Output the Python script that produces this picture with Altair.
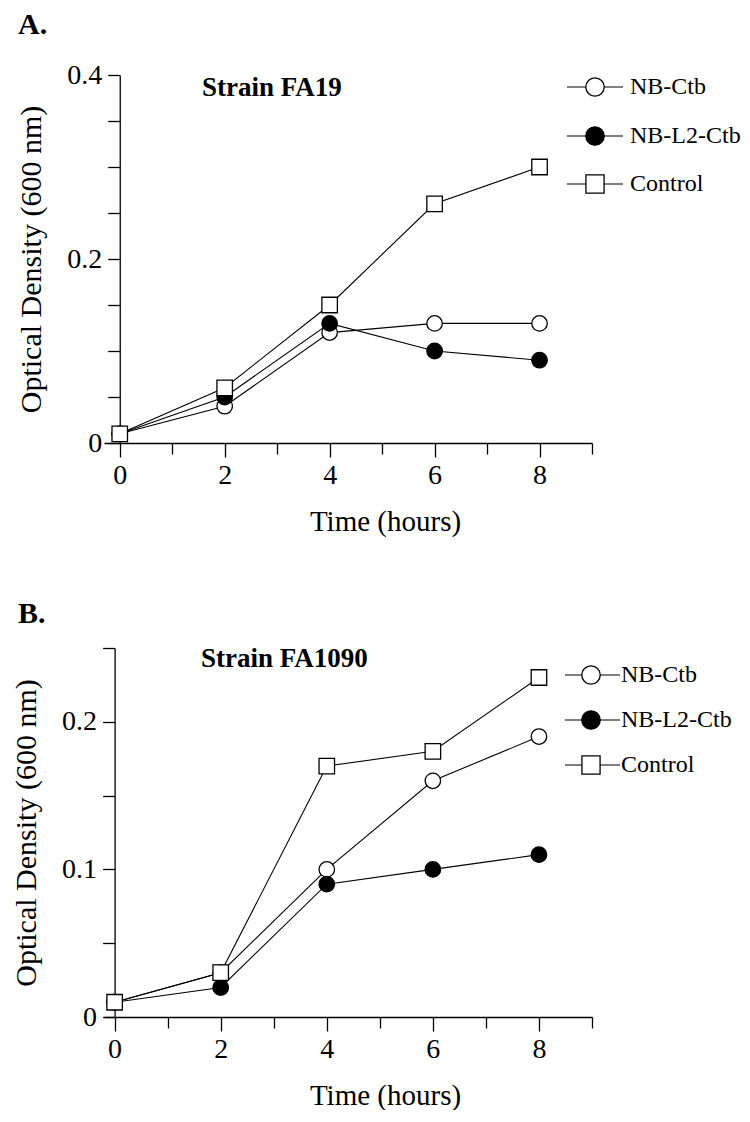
import altair as alt
import pandas as pd

# ---------------- data ----------------
hours = [0, 2, 4, 6, 8]
series = ["NB-Ctb", "NB-L2-Ctb", "Control"]

fa19_nb_ctb = [0.01, 0.04, 0.12, 0.13, 0.13]
fa19_nb_l2_ctb = [0.01, 0.05, 0.13, 0.10, 0.09]
fa19_control = [0.01, 0.06, 0.15, 0.26, 0.30]

fa1090_nb_ctb = [0.01, 0.03, 0.10, 0.16, 0.19]
fa1090_nb_l2_ctb = [0.01, 0.02, 0.09, 0.10, 0.11]
fa1090_control = [0.01, 0.03, 0.17, 0.18, 0.23]

x_ticks = [0, 1, 2, 3, 4, 5, 6, 7, 8, 9]
y_ticks_a = [0, 0.05, 0.1, 0.15, 0.2, 0.25, 0.3, 0.35, 0.4]
y_ticks_b = [0, 0.05, 0.1, 0.15, 0.2, 0.25]

FONT = "Liberation Serif"
shapes = {"NB-Ctb": "circle", "NB-L2-Ctb": "circle", "Control": "square"}
fills = {"NB-Ctb": "white", "NB-L2-Ctb": "black", "Control": "white"}
sizes = {"NB-Ctb": 240, "NB-L2-Ctb": 240, "Control": 210}
leg_sizes = {"NB-Ctb": 340, "NB-L2-Ctb": 340, "Control": 330}


def make_df(vals):
    rows = []
    for s, v in zip(series, vals):
        for h, y in zip(hours, v):
            rows.append({"hours": h, "od": y, "series": s})
    return pd.DataFrame(rows)


def panel(letter, strain, vals, ydom, yticks, major, xmin, W, H,
          letter_y, strain_xy, leg_rows_y, leg_x):
    df = make_df(vals)
    off = -(0 - xmin) / (9 - xmin) * W
    x = alt.X("hours:Q",
              scale=alt.Scale(domain=[xmin, 9], nice=False, zero=False),
              axis=alt.Axis(values=x_ticks, title="Time (hours)",
                            labelExpr="datum.value % 2 == 0 ? datum.label : ''",
                            tickSize={"condition": {"test": "datum.value % 2 == 0", "value": 14}, "value": 11},
                            labelPadding=4, titlePadding=18,
                            titleX=281, titleAlign="center"))
    y = alt.Y("od:Q",
              scale=alt.Scale(domain=ydom, nice=False, zero=True),
              axis=alt.Axis(values=yticks, title="Optical Density (600 nm)",
                            labelExpr=("round(datum.value*100) %% %d == 0 ? (datum.value == 0 ? '0' : format(datum.value, '.1f')) : ''" % major),
                            tickSize=12, labelPadding=6, titlePadding=20, titleFontSize=30,
                            offset=off))
    base = alt.Chart(df)
    lines = base.mark_line(color="black", strokeWidth=1.1).encode(x=x, y=y, detail="series:N")
    pts = base.mark_point(filled=True, stroke="black", strokeWidth=1.3, opacity=1).encode(
        x=x, y=y,
        shape=alt.Shape("series:N", scale=alt.Scale(domain=series, range=[shapes[s] for s in series]), legend=None),
        fill=alt.Fill("series:N", scale=alt.Scale(domain=series, range=[fills[s] for s in series]), legend=None),
        size=alt.Size("series:N", scale=alt.Scale(domain=series, range=[sizes[s] for s in series]), legend=None),
    )
    layers = [lines, pts]
    lab = pd.DataFrame({"t": [letter]})
    layers.append(alt.Chart(lab).mark_text(font=FONT, fontWeight="bold", fontSize=30, align="left",
                                           baseline="alphabetic", color="black").encode(
        x=alt.value(-86), y=alt.value(letter_y), text="t:N"))
    st = pd.DataFrame({"t": [strain]})
    layers.append(alt.Chart(st).mark_text(font=FONT, fontWeight="bold", fontSize=27, align="left",
                                          baseline="middle", color="black").encode(
        x=alt.value(strain_xy[0]), y=alt.value(strain_xy[1]), text="t:N"))
    x0, x1, xm, xt = leg_x
    for s, yy in zip(series, leg_rows_y):
        d = pd.DataFrame({"t": [s]})
        layers.append(alt.Chart(d).mark_rule(color="black", strokeWidth=1.2).encode(
            x=alt.value(x0), x2=alt.value(x1), y=alt.value(yy)))
        layers.append(alt.Chart(d).mark_point(shape=shapes[s], filled=True, fill=fills[s], stroke="black",
                                              strokeWidth=1.3, size=leg_sizes[s], opacity=1).encode(
            x=alt.value(xm), y=alt.value(yy)))
        layers.append(alt.Chart(d).mark_text(font=FONT, fontSize=24, align="left", baseline="middle",
                                             color="black").encode(
            x=alt.value(xt), y=alt.value(yy), text="t:N"))
    return alt.layer(*layers).properties(width=W, height=H)


W = 488
pa = panel("A.", "Strain FA19", [fa19_nb_ctb, fa19_nb_l2_ctb, fa19_control],
           [0, 0.4], y_ticks_a, 20, -0.3, W, 368,
           -41, (98, 13), [12, 61, 109], (463, 519, 491, 526))
pb = panel("B.", "Strain FA1090", [fa1090_nb_ctb, fa1090_nb_l2_ctb, fa1090_control],
           [0, 0.25], y_ticks_b, 10, -0.2, W, 369,
           -25, (97, 11), [27, 72, 117], (461, 516, 487, 517))

chart = alt.vconcat(pa, pb, spacing=63).properties(
    padding={"left": 3, "top": 2, "right": 0, "bottom": 0}
).configure_view(stroke=None).configure_axis(
    grid=False,
    domainColor="black", domainWidth=1.3,
    tickColor="black", tickWidth=1.3,
    labelFont=FONT, labelFontSize=28, labelColor="black",
    titleFont=FONT, titleFontSize=29, titleFontWeight="normal", titleColor="black",
)

chart.save("out.html", embed_options={"renderer": "svg", "actions": False})
